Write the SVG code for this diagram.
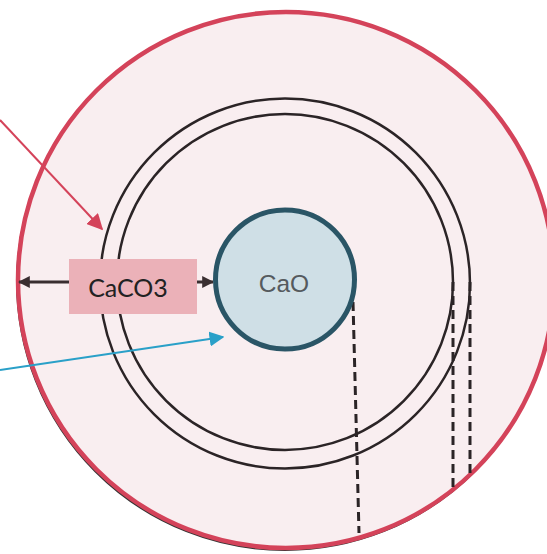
<svg xmlns="http://www.w3.org/2000/svg" width="547" height="554" viewBox="0 0 547 554">
  <defs>
    <style>
      .ring { fill: none; stroke: #2b2426; stroke-width: 2.5; }
      .dash { fill: none; stroke: #2b2426; stroke-width: 3; stroke-dasharray: 9 5; }
      .lbl { text-anchor: middle; }
    </style>
    <marker id="ahBlack" viewBox="0 0 10 10" refX="9" refY="5" markerWidth="4" markerHeight="4" orient="auto-start-reverse" markerUnits="strokeWidth">
      <path d="M0,0 L10,5 L0,10 z" fill="#3a2e30"/>
    </marker>
    <marker id="ahRed" viewBox="0 0 10 10" refX="9" refY="5" markerWidth="8" markerHeight="8" orient="auto" markerUnits="strokeWidth">
      <path d="M0,0 L10,5 L0,10 z" fill="#d4435a"/>
    </marker>
    <marker id="ahBlue" viewBox="0 0 10 10" refX="9" refY="5" markerWidth="7.5" markerHeight="7.5" orient="auto" markerUnits="strokeWidth">
      <path d="M0,0 L10,5 L0,10 z" fill="#2aa0c8"/>
    </marker>
  </defs>

  <rect width="547" height="554" fill="#ffffff"/>

  <g id="particle">
    <circle cx="285" cy="282" r="268" fill="none" stroke="#333" stroke-width="2"/>
    <circle cx="286" cy="280" r="268" fill="#f9eef0" stroke="#d4435a" stroke-width="4.5"/>
  </g>

  <g id="rings">
    <circle class="ring" cx="285" cy="283.5" r="185"/>
    <circle class="ring" cx="285" cy="282" r="168"/>
  </g>

  <g id="connectors">
    <line class="dash" x1="353" y1="302" x2="359" y2="533"/>
    <line class="dash" x1="453" y1="282" x2="453" y2="488"/>
    <line class="dash" x1="470" y1="282" x2="470" y2="473"/>
    <line x1="19" y1="282" x2="213" y2="282" stroke="#3a2e30" stroke-width="3" marker-start="url(#ahBlack)" marker-end="url(#ahBlack)"/>
    <line x1="0" y1="120" x2="102" y2="229" stroke="#d4435a" stroke-width="2" marker-end="url(#ahRed)"/>
    <line x1="0" y1="370" x2="223" y2="337" stroke="#2aa0c8" stroke-width="2" marker-end="url(#ahBlue)"/>
  </g>

  <g id="cao">
    <circle cx="285" cy="279.5" r="69.5" fill="#cfdfe6" stroke="#2a5566" stroke-width="5"/>
    <text class="lbl" x="284" y="292" font-family="Liberation Sans, Arial, sans-serif" font-size="24.5" fill="#555a5e">CaO</text>
  </g>

  <g id="caco3">
    <rect x="69" y="259" width="128" height="55" fill="#ebb1b8"/>
    <text class="lbl" x="128" y="297" font-family="Lato, 'Liberation Sans', sans-serif" font-size="25" fill="#222">CaCO3</text>
  </g>
</svg>
